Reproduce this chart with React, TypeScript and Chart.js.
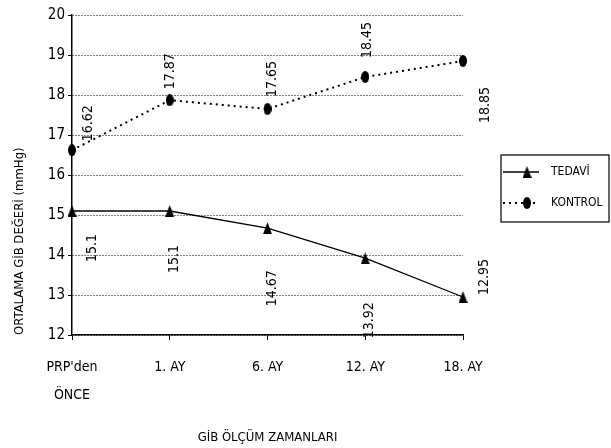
import React, { useEffect, useRef } from "react";
import { Chart, registerables } from "chart.js";

Chart.register(...registerables);

const categories: (string | string[])[] = [["PRP'den", "ÖNCE"], "1. AY", "6. AY", "12. AY", "18. AY"];
const tedavi = [15.1, 15.1, 14.67, 13.92, 12.95];
const kontrol = [16.62, 17.87, 17.65, 18.45, 18.85];
const seriesNames = ["TEDAVİ", "KONTROL"];
const yMin = 12;
const yMax = 20;
const yStep = 1;
const yTitle = "ORTALAMA GİB DEĞERİ (mmHg)";
const xTitle = "GİB ÖLÇÜM ZAMANLARI";

// label placement (style only)
const tedaviLabelOffsets = [[20, 37], [5, 48], [5, 60], [4, 62], [21, -20]];
const kontrolLabelOffsets = [[16, -27], [1, -29], [5, -30], [2, -37], [22, 44]];

const FONT = "'DejaVu Sans Condensed', 'DejaVu Sans', sans-serif";
const STYLE = "condensed";

function makeEllipse(w: number, h: number) {
  const c = document.createElement("canvas");
  c.width = w;
  c.height = h;
  const g = c.getContext("2d")!;
  g.fillStyle = "#000";
  g.beginPath();
  g.ellipse(w / 2, h / 2, w / 2, h / 2, 0, 0, Math.PI * 2);
  g.fill();
  return c;
}

function makeTriangle(w: number, h: number) {
  const c = document.createElement("canvas");
  c.width = w;
  c.height = h;
  const g = c.getContext("2d")!;
  g.fillStyle = "#000";
  g.beginPath();
  g.moveTo(w / 2, 0);
  g.lineTo(w, h);
  g.lineTo(0, h);
  g.closePath();
  g.fill();
  return c;
}

const rotLabelsPlugin = {
  id: "rotLabels",
  afterDatasetsDraw(chart: any, _args: any, opts: any) {
    const ctx = chart.ctx;
    chart.data.datasets.forEach((ds: any, di: number) => {
      const meta = chart.getDatasetMeta(di);
      const offs = opts.offsets[di];
      meta.data.forEach((pt: any, i: number) => {
        ctx.save();
        ctx.translate(pt.x + offs[i][0], pt.y + offs[i][1]);
        ctx.rotate(-Math.PI / 2);
        ctx.font = `${STYLE} 14px ${FONT}`;
        ctx.fillStyle = "#000";
        ctx.textAlign = "center";
        ctx.textBaseline = "middle";
        ctx.fillText(String(ds.data[i]), 0, 0);
        ctx.restore();
      });
    });
  },
};

const boxLegendPlugin = {
  id: "boxLegend",
  afterDraw(chart: any, _args: any, opts: any) {
    const ctx = chart.ctx;
    const { x, y, w, h } = opts;
    ctx.save();
    ctx.strokeStyle = "#000";
    ctx.lineWidth = 1.2;
    ctx.strokeRect(x, y, w, h);
    const rows = [y + 17, y + 48];
    chart.data.datasets.forEach((ds: any, di: number) => {
      const ly = rows[di];
      ctx.beginPath();
      ctx.strokeStyle = "#000";
      ctx.lineWidth = ds.borderWidth;
      ctx.setLineDash(ds.borderDash || []);
      ctx.moveTo(x + 2, ly);
      ctx.lineTo(x + 38, ly);
      ctx.stroke();
      ctx.setLineDash([]);
      const img = ds.pointStyle as HTMLCanvasElement;
      ctx.drawImage(img, x + 26 - img.width / 2, ly - img.height / 2);
      ctx.fillStyle = "#000";
      ctx.font = `${STYLE} 12px ${FONT}`;
      ctx.textAlign = "left";
      ctx.textBaseline = "middle";
      ctx.fillText(ds.label, x + 50, ly);
    });
    ctx.restore();
  },
};

export default function App() {
  const ref = useRef<HTMLCanvasElement | null>(null);

  useEffect(() => {
    if (!ref.current) return;
    const tri = makeTriangle(9, 12);
    const ell = makeEllipse(8, 12);
    const chart = new Chart(ref.current, {
      type: "line",
      data: {
        labels: categories as any,
        datasets: [
          {
            label: seriesNames[0],
            data: tedavi,
            borderColor: "#000",
            borderWidth: 1.3,
            pointStyle: tri as any,
            backgroundColor: "#000",
            tension: 0,
          },
          {
            label: seriesNames[1],
            data: kontrol,
            borderColor: "#000",
            borderWidth: 2,
            borderDash: [2, 4],
            pointStyle: ell as any,
            backgroundColor: "#000",
            tension: 0,
          },
        ],
      },
      options: {
        animation: false,
        responsive: true,
        maintainAspectRatio: false,
        devicePixelRatio: 1,
        layout: { padding: { top: 15, right: 148, left: 0, bottom: 0 } },
        plugins: {
          legend: { display: false },
          tooltip: { enabled: false },
          rotLabels: { offsets: [tedaviLabelOffsets, kontrolLabelOffsets] },
          boxLegend: { x: 501, y: 155, w: 108, h: 67 },
        } as any,
        scales: {
          x: {
            type: "category",
            offset: false,
            grid: { drawOnChartArea: false, drawTicks: true, tickLength: 5, color: "#000", lineWidth: 1 },
            border: { display: true, color: "#000", width: 1.5 },
            ticks: {
              color: "#000",
              font: { family: FONT, style: STYLE as any, size: 14, lineHeight: 2 },
              padding: 13,
              maxRotation: 0,
              autoSkip: false,
            },
            title: {
              display: true,
              text: xTitle,
              color: "#000",
              font: { family: FONT, style: STYLE as any, size: 13 },
              padding: { top: 0, bottom: 3 },
            },
            afterFit(s: any) {
              s.height = 113;
            },
          },
          y: {
            min: yMin,
            max: yMax,
            ticks: { stepSize: yStep, color: "#000", font: { family: FONT, style: STYLE as any, size: 15 }, padding: 3 },
            grid: { color: "#000", lineWidth: 1, tickLength: 4, tickColor: "#000", tickBorderDash: [] } as any,
            border: { display: true, color: "#000", width: 1.5, dash: [1, 2] },
            title: {
              display: true,
              text: yTitle,
              align: "start",
              color: "#000",
              font: { family: FONT, style: STYLE as any, size: 13 },
              padding: { top: 12, bottom: 0 },
            },
            afterFit(s: any) {
              s.width = 72;
            },
          },
        },
      },
      plugins: [rotLabelsPlugin, boxLegendPlugin],
    });
    return () => chart.destroy();
  }, []);

  return (
    <div style={{ position: "absolute", left: 0, top: 0, width: 611, height: 448, background: "#fff" }}>
      <canvas ref={ref} />
    </div>
  );
}
